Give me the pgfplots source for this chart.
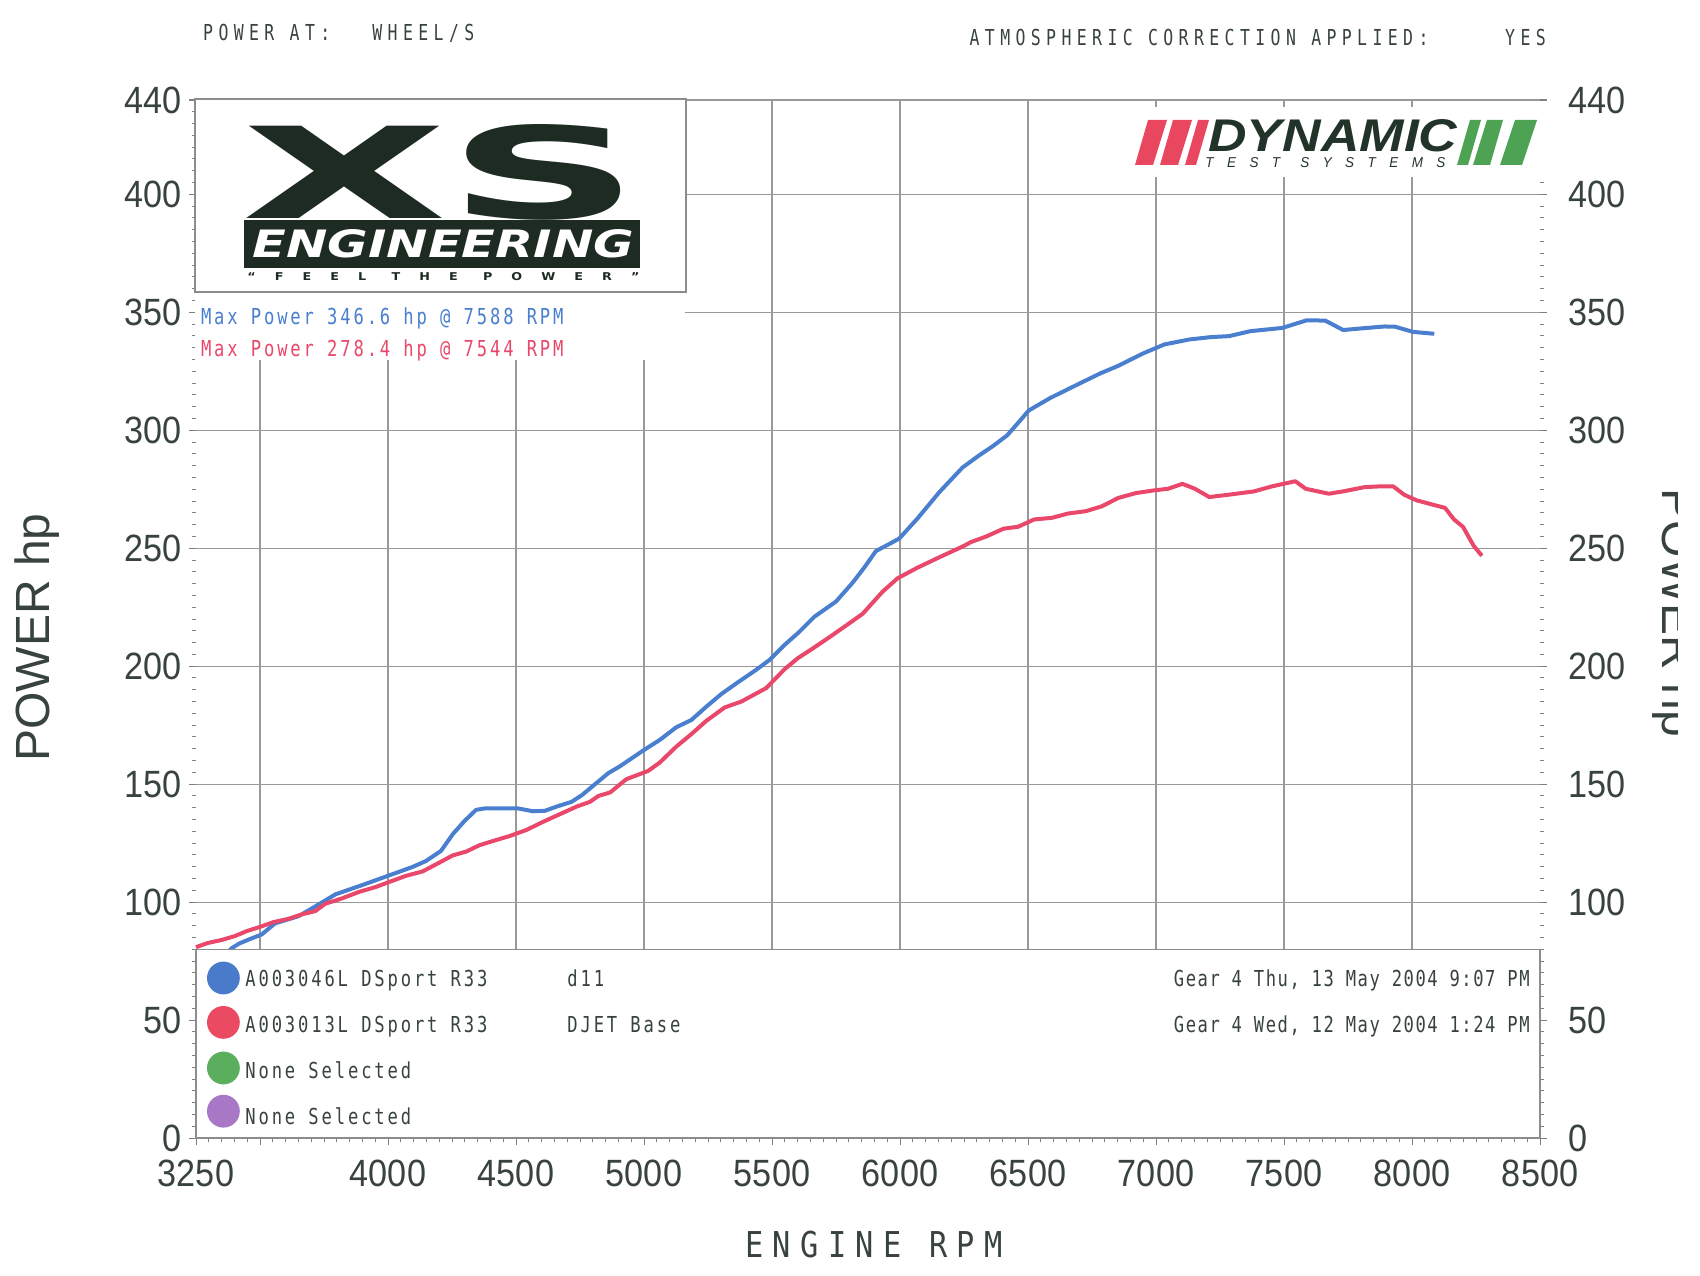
\documentclass[border=0pt]{standalone}
\usepackage{fontspec}
\usepackage{graphicx}
\usepackage{pgfplots}
\pgfplotsset{compat=1.18}
\setmainfont{Liberation Sans}
\newfontfamily\tickfont{Liberation Sans}[FakeStretch=0.9]
\newfontfamily\monofont{DejaVu Sans Mono}[FakeStretch=0.78,LetterSpace=13]
\newfontfamily\monofontb{DejaVu Sans Mono}[FakeStretch=0.78,LetterSpace=7]
\newfontfamily\hdrfont{DejaVu Sans Mono}[FakeStretch=0.75,LetterSpace=24.5]
\newfontfamily\rpmfont{DejaVu Sans Mono}[FakeStretch=0.85,LetterSpace=26.5]
\newfontfamily\logofont{DejaVu Sans}
\newfontfamily\feelfont{DejaVu Sans}[LetterSpace=150]
\newfontfamily\tsfont{Liberation Sans}[LetterSpace=100]
\definecolor{txt}{HTML}{38433D}
\definecolor{lineblue}{HTML}{4A7FCF}
\definecolor{linered}{HTML}{E9486B}
\definecolor{logodark}{HTML}{1D2B22}
\definecolor{dyndark}{HTML}{22332A}
\definecolor{dynred}{HTML}{E8475F}
\definecolor{dyngreen}{HTML}{4DA353}
\definecolor{legblue}{HTML}{4A7BCB}
\definecolor{legred}{HTML}{EB4A63}
\definecolor{leggreen}{HTML}{5BAE5E}
\definecolor{legpurple}{HTML}{A878C6}
\begin{document}
\begin{tikzpicture}
\useasboundingbox (0,0) rectangle (850pt,637.5pt);
\begin{axis}[
  at={(98pt,68.5pt)}, anchor=south west,
  width=672pt, height=519pt, scale only axis,
  xmin=3250, xmax=8500, ymin=0, ymax=440,
  axis line style={draw=none},
  xtick={3500,4000,...,8000},
  xticklabels={,4000,4500,5000,5500,6000,6500,7000,7500,8000},
  extra x ticks={3250,8500},
  extra x tick labels={3250,8500},
  extra x tick style={grid=none},
  minor xtick={3250,3300,...,8500},
  ytick={0,50,...,400,440},
  yticklabels={0,50,100,150,200,250,300,350,400,440},
  minor ytick={0,5,...,440},
  ytick pos=both, xtick pos=left,
  yticklabel pos=left,
  tick align=outside,
  major tick length=3.5pt, minor tick length=2.2pt,
  tick style={black!50, line width=0.5pt},
  grid=major,
  major grid style={black!40, line width=0.55pt},
  /pgf/number format/assume math mode=true,
  ticklabel style={font=\tickfont\fontsize{19}{19}\selectfont, text=txt},
  xticklabel style={yshift=-4pt},
  clip=false,
]
\addplot[lineblue, line width=2pt, line join=round] coordinates {
(3300,72) (3350,76) (3390,80.5) (3420,82.5) (3460,84.3) (3507,86.3) (3559,91) (3650,94)
(3729,99) (3795,103.3) (3899,107.2) (4004,111.3) (4096,114.9) (4148,117.4)
(4207,121.7) (4253,128.8) (4299,134.4) (4344,139.1) (4377,139.7) (4508,139.7)
(4567,138.5) (4613,138.7) (4659,140.5) (4717,142.5) (4757,145.3) (4809,150)
(4861,154.7) (4905,157.5) (4996,164.2) (5061,168.7) (5126,174.1) (5185,177.2)
(5243,182.8) (5302,188.2) (5367,193.2) (5432,198.0) (5490,202.6) (5549,209.0)
(5607,214.6) (5666,221.0) (5750,227.4) (5815,235.4) (5861,241.9) (5906,248.8)
(5958,251.8) (5997,254.1) (6069,262.7) (6153,273.7) (6244,284.2) (6307,289.2)
(6363,293.3) (6419,297.9) (6461,303.1) (6503,308.4) (6587,313.7) (6684,318.9)
(6782,324.1) (6852,327.3) (6950,332.6) (7033,336.4) (7131,338.5) (7215,339.5)
(7285,339.9) (7368,342) (7494,343.4) (7588,346.6) (7661,346.5) (7731,342.5)
(7815,343.3) (7892,344) (7934,343.9) (8004,341.7) (8087,340.9)
};
\addplot[linered, line width=2pt, line join=round] coordinates {
(3250,80.9) (3297,82.7) (3349,83.9) (3402,85.6) (3448,87.7) (3500,89.5)
(3552,91.5) (3611,92.9) (3664,94.8) (3716,96.2) (3755,99.3) (3821,101.6)
(3886,104.3) (3952,106.4) (4004,108.5) (4069,111.1) (4135,113) (4200,116.7)
(4253,119.8) (4305,121.4) (4357,124.1) (4410,125.9) (4475,128) (4541,130.6)
(4613,134.4) (4672,137.3) (4737,140.5) (4789,142.5) (4822,145) (4868,146.5)
(4931,152.1) (5016,155.6) (5061,159.1) (5126,165.9) (5185,171.2) (5243,176.8)
(5315,182.5) (5380,185.0) (5477,190.7) (5549,198.7) (5601,203.4) (5666,208.0)
(5731,212.8) (5789,217.2) (5854,222.2) (5932,231.6) (5991,237.3) (6069,241.8)
(6160,246.5) (6244,250.7) (6279,252.7) (6335,254.9) (6405,258.3) (6461,259.1)
(6524,262.2) (6594,262.9) (6656,264.7) (6726,265.7) (6789,267.8) (6852,271.3)
(6922,273.4) (6991,274.5) (7047,275.2) (7103,277.3) (7152,275.2) (7208,271.7)
(7285,272.7) (7383,274.1) (7452,276.2) (7544,278.4) (7585,275.2) (7675,273.1)
(7731,274.1) (7815,275.9) (7871,276.2) (7927,276.2) (7969,272.7) (8018,270.3)
(8080,268.5) (8129,267.1) (8164,262.2) (8199,259.1) (8241,251) (8273,246.8)
};
\filldraw[fill=white, draw=black!45, line width=0.6pt] (axis cs:3250,0) rectangle (axis cs:8500,80);
\end{axis}
\begin{axis}[
  at={(98pt,68.5pt)}, anchor=south west,
  width=672pt, height=519pt, scale only axis,
  xmin=3250, xmax=8500, ymin=0, ymax=440,
  axis line style={draw=none},
  xtick=\empty,
  ytick={0,50,...,400,440},
  yticklabels={0,50,100,150,200,250,300,350,400,440},
  ytick pos=right, yticklabel pos=right,
  major tick length=0pt,
  yticklabel style={xshift=10.5pt},
  ticklabel style={font=\tickfont\fontsize{19}{19}\selectfont, text=txt},
]
\end{axis}
% legend content
\fill[legblue] (111.7pt,148.5pt) circle (8.2pt);
\fill[legred] (111.7pt,126.3pt) circle (8.2pt);
\fill[leggreen] (111.7pt,103.5pt) circle (8.2pt);
\fill[legpurple] (111.7pt,81.9pt) circle (8.2pt);
\begin{scope}[every node/.style={inner sep=0, text=txt, font=\monofont\fontsize{11}{11}\selectfont}]
\node[anchor=base west] at (122.5pt,144.2pt) {A003046L DSport R33};
\node[anchor=base west] at (122.5pt,121.5pt) {A003013L DSport R33};
\node[anchor=base west] at (122.5pt,98.2pt) {None Selected};
\node[anchor=base west] at (122.5pt,75.4pt) {None Selected};
\node[anchor=base west] at (283.5pt,144.2pt) {d11};
\node[anchor=base west] at (283.5pt,121.5pt) {DJET Base};
\node[anchor=base east, font=\monofontb\fontsize{11}{11}\selectfont] at (765pt,144.2pt) {Gear 4 Thu, 13 May 2004 9:07 PM};
\node[anchor=base east, font=\monofontb\fontsize{11}{11}\selectfont] at (765pt,121.2pt) {Gear 4 Wed, 12 May 2004 1:24 PM};
\end{scope}
% XS logo
\fill[white] (97.5pt,457.5pt) rectangle (342.5pt,491.5pt);
\filldraw[fill=white, draw=black!45, line width=0.6pt] (97.5pt,491.5pt) rectangle (343pt,588pt);
\node[anchor=south west, inner sep=0, text=logodark] at (120.4pt,527pt) {\resizebox{199.4pt}{47pt}{\logofont\bfseries XS}};
\fill[logodark] (122pt,503.6pt) rectangle (319.8pt,527.5pt);
\node[anchor=center, inner sep=0, text=white] at (221.7pt,515.8pt) {\resizebox{190.8pt}{14pt}{\logofont\bfseries\itshape ENGINEERING}};
\node[anchor=center, inner sep=0, text=logodark] at (221.7pt,499.3pt) {\resizebox{196pt}{4pt}{\feelfont\bfseries “FEEL\hspace{2em}THE\hspace{2em}POWER”}};
\begin{scope}[every node/.style={inner sep=0}]
\node[anchor=base west, text=lineblue, font=\monofont\fontsize{11}{11}\selectfont] at (100.3pt,475.2pt) {Max Power 346.6 hp @ 7588 RPM};
\node[anchor=base west, text=linered, font=\monofont\fontsize{11}{11}\selectfont] at (100.3pt,459pt) {Max Power 278.4 hp @ 7544 RPM};
\end{scope}
% Dynamic logo
\fill[white] (562pt,549pt) rectangle (773pt,584pt);
\fill[dynred] (567.5pt,555pt) -- (576.5pt,555pt) -- (583.5pt,577.5pt) -- (574pt,577.5pt) -- cycle;
\fill[dynred] (580pt,555pt) -- (589pt,555pt) -- (596pt,577.5pt) -- (586.5pt,577.5pt) -- cycle;
\fill[dynred] (592.5pt,555pt) -- (598pt,555pt) -- (604.5pt,577.5pt) -- (599pt,577.5pt) -- cycle;
\fill[dyngreen] (728.5pt,555pt) -- (734pt,555pt) -- (740.5pt,577.5pt) -- (735pt,577.5pt) -- cycle;
\fill[dyngreen] (736.5pt,555pt) -- (745pt,555pt) -- (751.5pt,577.5pt) -- (743.5pt,577.5pt) -- cycle;
\fill[dyngreen] (750pt,555pt) -- (761pt,555pt) -- (768.5pt,577.5pt) -- (757.5pt,577.5pt) -- cycle;
\node[anchor=south west, inner sep=0, text=dyndark] at (604pt,561.5pt) {\resizebox{124.5pt}{16pt}{\bfseries\itshape DYNAMIC}};
\node[anchor=south west, inner sep=0, text=dyndark] at (602.5pt,553.5pt) {\resizebox{120pt}{5pt}{\tsfont\itshape TEST\hspace{1.5em}SYSTEMS}};
% header texts
\begin{scope}[every node/.style={inner sep=0, anchor=base west, text=txt, font=\hdrfont\fontsize{11}{11}\selectfont}]
\node at (101.4pt,617pt) {POWER AT:};
\node at (186pt,617pt) {WHEEL/S};
\node at (484.6pt,614.7pt) {ATMOSPHERIC CORRECTION APPLIED:};
\node at (752.4pt,614.7pt) {YES};
\end{scope}
% axis titles
\node[anchor=center, inner sep=0, text=txt, font=\rpmfont\fontsize{17.8}{17.8}\selectfont] at (437pt,15.2pt) {ENGINE RPM};
\node[rotate=90, anchor=center, inner sep=0, text=txt, font=\fontsize{24}{24}\selectfont] at (18.5pt,318.7pt) {POWER hp};
\node[rotate=-90, anchor=base, inner sep=0, text=txt, font=\fontsize{24}{24}\selectfont] at (831pt,331pt) {POWER hp};
\fill[white] (839pt,0pt) rectangle (850pt,637.5pt);
\end{tikzpicture}
\end{document}
